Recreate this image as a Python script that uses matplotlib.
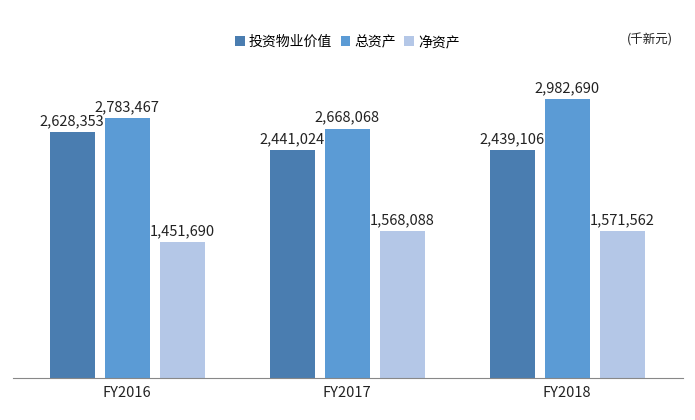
import matplotlib
matplotlib.use("Agg")
import matplotlib.pyplot as plt
import numpy as np

plt.rcParams['font.family'] = ['Noto Sans CJK SC', 'DejaVu Sans']

categories = ["FY2016", "FY2017", "FY2018"]
series_names = ["投资物业价值", "总资产", "净资产"]
investment = [2628353, 2441024, 2439106]
total_assets = [2783467, 2668068, 2982690]
net_assets = [1451690, 1568088, 1571562]
colors = ["#4a7db0", "#5b9bd5", "#b4c7e7"]

fig = plt.figure(figsize=(6.95, 4.2), dpi=100)
ax = fig.add_axes([0.019, 0.1, 0.964, 0.757])
x = np.arange(len(categories))
w = 0.205
for i, (vals, name) in enumerate(zip([investment, total_assets, net_assets], series_names)):
    bars = ax.bar(x + (i - 1) * 0.25, vals, w, color=colors[i], label=name)
    for b, v in zip(bars, vals):
        ax.text(b.get_x() + b.get_width() / 2, v + 40000, f"{v:,}",
                ha="center", va="bottom", fontsize=10.5, color="#222222")

ax.set_xlim(-0.518, 2.527)
ax.set_ylim(0, 3400000)
ax.set_xticks(x)
ax.set_xticklabels(categories, fontsize=10.5, color="#222222")
ax.set_yticks([])
for s in ["top", "left", "right"]:
    ax.spines[s].set_visible(False)
ax.spines["bottom"].set_color("#888888")
ax.tick_params(axis="x", length=0, pad=6)

fig.legend(loc="center", bbox_to_anchor=(0.5, 0.9), ncol=3, frameon=False,
           fontsize=10, handlelength=0.7, handleheight=0.7, columnspacing=0.6,
           handletextpad=0.3)
fig.text(0.935, 0.905, "(千新元)", ha="center", va="center", fontsize=9, color="#222222")

fig.savefig("out.png", dpi=100)
